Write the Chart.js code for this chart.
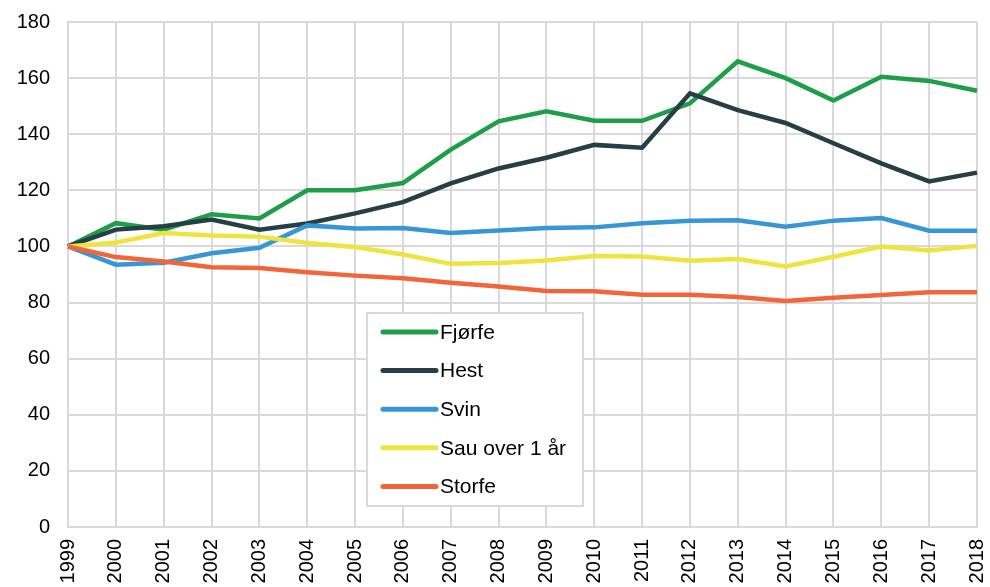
<!DOCTYPE html>
<html>
<head>
<meta charset="utf-8">
<script src="https://cdn.jsdelivr.net/npm/chart.js@4/dist/chart.umd.min.js"></script>
<style>
  html, body { margin: 0; padding: 0; background: #fff; }
  #wrap { width: 990px; height: 587px; }
</style>
</head>
<body>
<div id="wrap"><canvas id="chart" width="990" height="587"></canvas></div>
<script>
// ---- data ----
const years = ["1999","2000","2001","2002","2003","2004","2005","2006","2007","2008",
               "2009","2010","2011","2012","2013","2014","2015","2016","2017","2018"];

const fjorfe = [100, 108.3, 106, 111.5, 110, 120, 120, 122.6, 134.5, 144.6,
                148.2, 144.8, 144.8, 151, 166, 160, 152, 160.5, 159, 155.5];
const hest   = [100, 106, 107.2, 109.6, 106, 108.2, 111.8, 115.8, 122.5, 127.8,
                131.6, 136.2, 135.2, 154.6, 148.6, 144, 136.8, 129.6, 123.2, 126.3];
const svin   = [100, 93.5, 94.2, 97.6, 99.5, 107.5, 106.4, 106.6, 104.8, 105.7,
                106.6, 106.8, 108.3, 109.2, 109.3, 107, 109.2, 110.1, 105.6, 105.6];
const sau    = [100, 101.4, 104.8, 103.9, 103.5, 101.2, 99.8, 97.1, 93.8, 94.1,
                95, 96.6, 96.4, 94.9, 95.5, 92.9, 96.3, 100, 98.6, 100.2];
const storfe = [100, 96.2, 94.6, 92.6, 92.3, 90.8, 89.6, 88.7, 87.1, 85.7,
                84.1, 84, 82.8, 82.8, 82, 80.6, 81.7, 82.7, 83.7, 83.7];

const seriesNames = ["Fjørfe", "Hest", "Svin", "Sau over 1 år", "Storfe"];
const seriesData = [fjorfe, hest, svin, sau, storfe];
const seriesColors = ["#1E9E48", "#253F44", "#3797D6", "#EFE33F", "#F2643A"];

const yTicks = [0, 20, 40, 60, 80, 100, 120, 140, 160, 180];

const FONT = "'Liberation Sans', Arial, sans-serif";
const GRID = "#D9D9D9";

// legend box drawn inside the plot area
const boxLegend = {
  id: "boxLegend",
  afterDraw(chart) {
    const { ctx, chartArea } = chart;
    const x = chartArea.left + 299;
    const y = chartArea.top + 291;
    const w = 216;
    const h = 193;

    ctx.save();
    ctx.fillStyle = "#fff";
    ctx.fillRect(x, y, w, h);
    ctx.strokeStyle = GRID;
    ctx.lineWidth = 2;
    ctx.strokeRect(x, y, w, h);

    ctx.font = "21px " + FONT;
    ctx.textBaseline = "middle";
    ctx.fillStyle = "#000";
    seriesNames.forEach((name, i) => {
      const ry = y + 19 + i * 38.6;
      ctx.beginPath();
      ctx.strokeStyle = seriesColors[i];
      ctx.lineWidth = 5;
      ctx.lineCap = "round";
      ctx.moveTo(x + 16, ry);
      ctx.lineTo(x + 69, ry);
      ctx.stroke();
      ctx.fillText(name, x + 73, ry + 1);
    });
    ctx.restore();
  }
};

// later series are drawn on top, so feed them in reverse
const datasets = seriesNames.map((name, i) => ({
  label: name,
  data: seriesData[i],
  borderColor: seriesColors[i],
  backgroundColor: seriesColors[i],
  borderWidth: 4.5,
  pointRadius: 0,
  tension: 0,
  fill: false
})).reverse();

new Chart(document.getElementById("chart"), {
  type: "line",
  data: { labels: years, datasets: datasets },
  options: {
    responsive: false,
    animation: false,
    layout: { padding: { top: 22, right: 13, left: 0, bottom: 0 } },
    plugins: {
      legend: { display: false },
      tooltip: { enabled: false }
    },
    scales: {
      x: {
        offset: false,
        grid: { color: GRID, lineWidth: 2, drawTicks: false },
        border: { color: GRID, width: 2 },
        ticks: {
          color: "#000",
          font: { family: FONT, size: 20 },
          minRotation: 90,
          maxRotation: 90,
          autoSkip: false,
          padding: 12
        },
        afterFit(scale) {
          scale.height = 60;
          scale.paddingLeft = 0;
          scale.paddingRight = 0;
        }
      },
      y: {
        min: 0,
        max: 180,
        afterBuildTicks(scale) { scale.ticks = yTicks.map(v => ({ value: v })); },
        grid: { color: GRID, lineWidth: 2, drawTicks: false },
        border: { color: GRID, width: 2 },
        ticks: {
          color: "#000",
          font: { family: FONT, size: 20 },
          padding: 18
        },
        afterFit(scale) {
          scale.width = 68;
          scale.paddingTop = 0;
          scale.paddingBottom = 0;
        }
      }
    }
  },
  plugins: [boxLegend]
});
</script>
</body>
</html>
